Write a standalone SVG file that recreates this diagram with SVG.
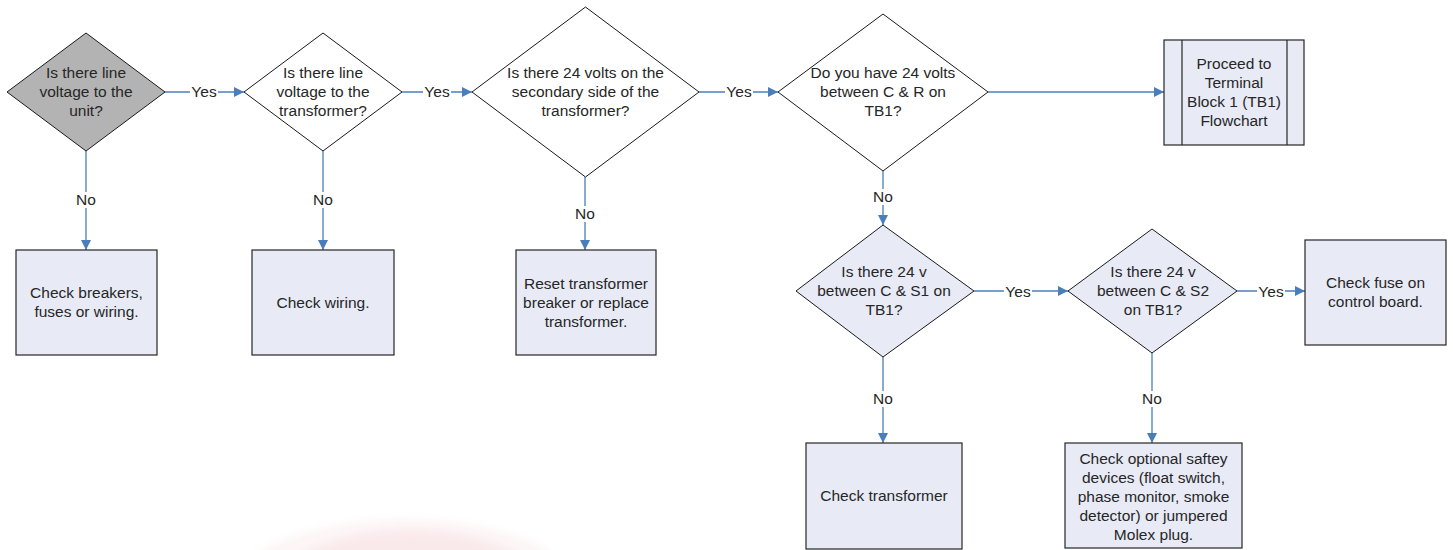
<svg xmlns="http://www.w3.org/2000/svg" width="1453" height="550" viewBox="0 0 1453 550">
<style>
text{font-family:"Liberation Sans",Arial,sans-serif;font-size:15.5px;fill:#262626;text-anchor:middle}
.dia{stroke:#1a1a1a;stroke-width:1}
.box{fill:#e8ebf6;stroke:#262626;stroke-width:1.2}
.w{fill:#ffffff}
.g{fill:#b3b3b3}
.b{fill:#e8ebf6}
.c{stroke:#4a7ebb;stroke-width:1.3;fill:none}
.lbl{fill:#ffffff;stroke:none}
</style>
<defs>
<marker id="ah" viewBox="0 0 10 10" refX="10" refY="5" markerWidth="10" markerHeight="10" markerUnits="userSpaceOnUse" orient="auto">
<path d="M0,0 L10,5 L0,10 z" fill="#4a7ebb"/>
</marker>
<filter id="blur" x="-20%" y="-20%" width="140%" height="140%"><feGaussianBlur stdDeviation="4"/></filter>
</defs>

<g id="watermark" filter="url(#blur)">
<ellipse cx="405" cy="605" rx="185" ry="86" fill="#fdf5f6"/>
<ellipse cx="410" cy="612" rx="150" ry="82" fill="#fae9eb"/>
</g>

<g id="connectors">
<path class="c" d="M165,92 H244" marker-end="url(#ah)"/>
<path class="c" d="M402,92 H472" marker-end="url(#ah)"/>
<path class="c" d="M699,92 H778" marker-end="url(#ah)"/>
<path class="c" d="M988,92 H1164" marker-end="url(#ah)"/>
<path class="c" d="M86,151 V250" marker-end="url(#ah)"/>
<path class="c" d="M323,151 V250" marker-end="url(#ah)"/>
<path class="c" d="M585,177 V250" marker-end="url(#ah)"/>
<path class="c" d="M883,171 V225" marker-end="url(#ah)"/>
<path class="c" d="M974,291 H1068" marker-end="url(#ah)"/>
<path class="c" d="M1237,291 H1305" marker-end="url(#ah)"/>
<path class="c" d="M883,357 V443" marker-end="url(#ah)"/>
<path class="c" d="M1152,353 V443" marker-end="url(#ah)"/>
<rect class="lbl" x="190" y="84" width="28" height="16"/><text x="204" y="97">Yes</text>
<rect class="lbl" x="423" y="84" width="28" height="16"/><text x="437" y="97">Yes</text>
<rect class="lbl" x="725" y="84" width="28" height="16"/><text x="739" y="97">Yes</text>
<rect class="lbl" x="1004" y="284" width="28" height="16"/><text x="1018" y="297">Yes</text>
<rect class="lbl" x="1257" y="284" width="28" height="16"/><text x="1271" y="297">Yes</text>
<rect class="lbl" x="76" y="192" width="20" height="16"/><text x="86" y="205">No</text>
<rect class="lbl" x="313" y="192" width="20" height="16"/><text x="323" y="205">No</text>
<rect class="lbl" x="575" y="206" width="20" height="16"/><text x="585" y="219">No</text>
<rect class="lbl" x="873" y="189" width="20" height="16"/><text x="883" y="202">No</text>
<rect class="lbl" x="873" y="391" width="20" height="16"/><text x="883" y="404">No</text>
<rect class="lbl" x="1142" y="391" width="20" height="16"/><text x="1152" y="404">No</text>
</g>

<g id="d1">
<polygon class="dia g" points="86,33 165,92 86,151 7,92"/>
<text x="86" y="78">Is there line</text>
<text x="86" y="97">voltage to the</text>
<text x="86" y="116">unit?</text>
</g>
<g id="d2">
<polygon class="dia w" points="323,33 402,92 323,151 244,92"/>
<text x="323" y="78">Is there line</text>
<text x="323" y="97">voltage to the</text>
<text x="323" y="116">transformer?</text>
</g>
<g id="d3">
<polygon class="dia w" points="585.5,7 699,92 585.5,177 472,92"/>
<text x="585.5" y="78">Is there 24 volts on the</text>
<text x="585.5" y="97">secondary side of the</text>
<text x="585.5" y="116">transformer?</text>
</g>
<g id="d4">
<polygon class="dia w" points="883,14 988,92 883,171 778,92"/>
<text x="883" y="78">Do you have 24 volts</text>
<text x="883" y="97">between C &amp; R on</text>
<text x="883" y="116">TB1?</text>
</g>
<g id="tb1">
<rect class="box" x="1164" y="40" width="140" height="105"/>
<line x1="1182" y1="40" x2="1182" y2="145" stroke="#262626" stroke-width="1.2"/>
<line x1="1287" y1="40" x2="1287" y2="145" stroke="#262626" stroke-width="1.2"/>
<text x="1234" y="69">Proceed to</text>
<text x="1234" y="88">Terminal</text>
<text x="1234" y="107">Block 1 (TB1)</text>
<text x="1234" y="126">Flowchart</text>
</g>
<g id="b1">
<rect class="box" x="16" y="250" width="141" height="105"/>
<text x="86.5" y="298">Check breakers,</text>
<text x="86.5" y="317">fuses or wiring.</text>
</g>
<g id="b2">
<rect class="box" x="252" y="250" width="142" height="105"/>
<text x="323" y="308">Check wiring.</text>
</g>
<g id="b3">
<rect class="box" x="516" y="250" width="140" height="105"/>
<text x="586" y="289">Reset transformer</text>
<text x="586" y="308">breaker or replace</text>
<text x="586" y="327">transformer.</text>
</g>
<g id="d5">
<polygon class="dia b" points="883,225 974,291 883,357 796,291"/>
<text x="884" y="277">Is there 24 v</text>
<text x="884" y="296">between C &amp; S1 on</text>
<text x="884" y="315">TB1?</text>
</g>
<g id="d6">
<polygon class="dia b" points="1152,229 1237,291 1152,353 1068,291"/>
<text x="1153" y="277">Is there 24 v</text>
<text x="1153" y="296">between C &amp; S2</text>
<text x="1153" y="315">on TB1?</text>
</g>
<g id="b4">
<rect class="box" x="1305" y="240" width="141" height="105"/>
<text x="1375.5" y="288">Check fuse on</text>
<text x="1375.5" y="307">control board.</text>
</g>
<g id="b5">
<rect class="box" x="806" y="443" width="156" height="106"/>
<text x="884" y="501">Check transformer</text>
</g>
<g id="b6">
<rect class="box" x="1065" y="443" width="177" height="105"/>
<text x="1153.5" y="464">Check optional saftey</text>
<text x="1153.5" y="483">devices (float switch,</text>
<text x="1153.5" y="502">phase monitor, smoke</text>
<text x="1153.5" y="521">detector) or jumpered</text>
<text x="1153.5" y="540">Molex plug.</text>
</g>
</svg>
